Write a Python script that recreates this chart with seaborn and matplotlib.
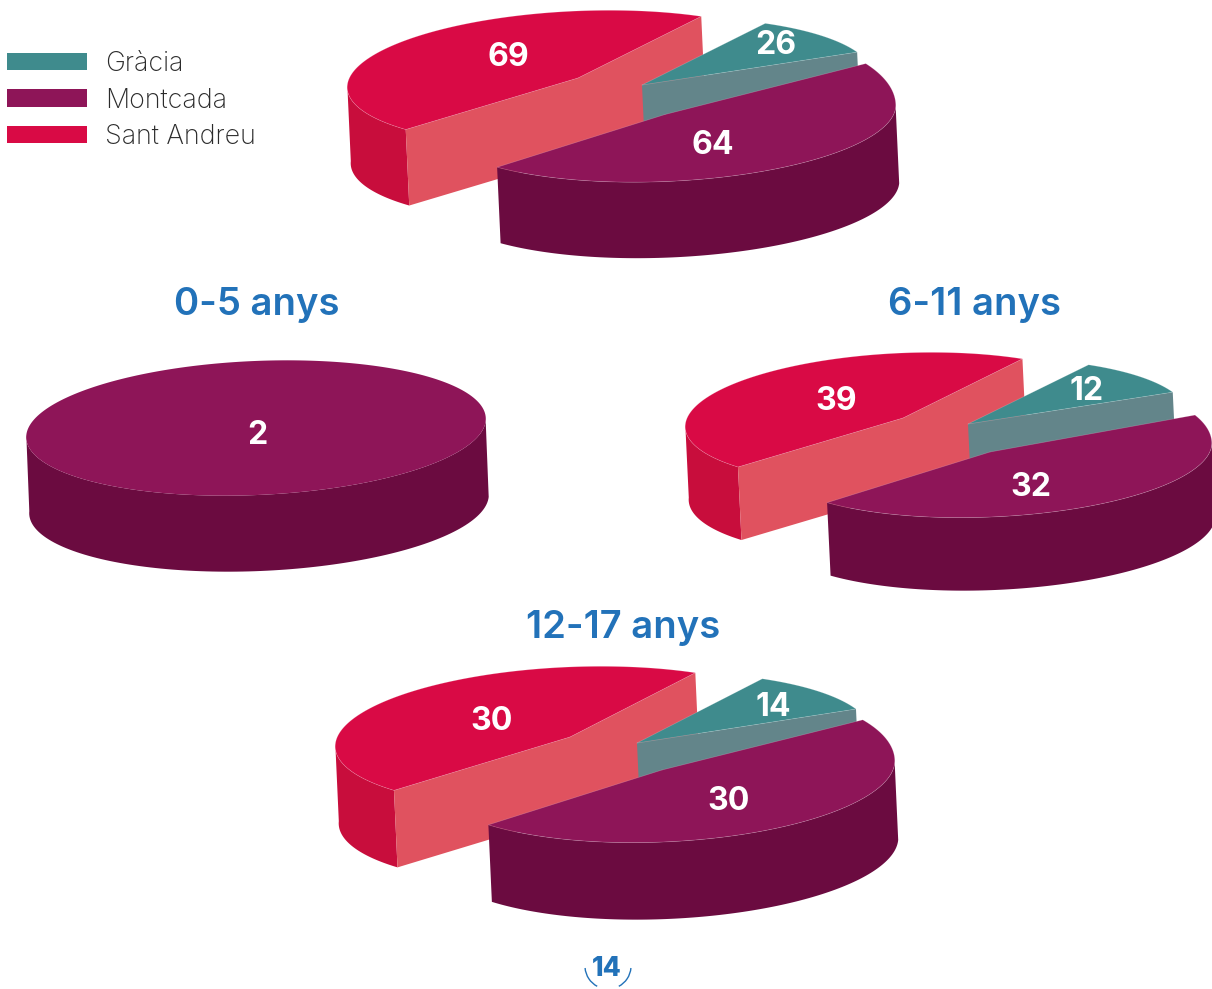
import numpy as np
import matplotlib
matplotlib.use("Agg")
import matplotlib.pyplot as plt
from matplotlib.patches import Patch, Arc
import seaborn as sns

sns.set_theme(style="white")
plt.rcParams['font.family'] = ['Inter', 'DejaVu Sans']

# Data
series = ['Gràcia', 'Montcada', 'Sant Andreu']
group_titles = ['', '0-5 anys', '6-11 anys', '12-17 anys']
gracia_values = [26, None, 12, 14]
montcada_values = [64, 2, 32, 30]
sant_andreu_values = [69, None, 39, 30]

# the slices are not drawn to scale in the original, so angles are read off too
# (degrees on the flattened ellipse, counter-clockwise from the right)
gracia_angles = [(20.5, 57), None, (20.6, 56), (20.4, 57)]
montcada_angles = [(222.6, 388.6), (0, 360), (222, 381.6), (221, 389.5)]
sant_andreu_angles = [(57, 221), None, (56, 220), (57, 220.7)]

# Layout in pixels: slice apex, radii, depth, label position
layout = [
    {'G': (642, 85), 'M': (665, 114.5), 'S': (578, 78), 'rx': 231, 'ry': 67, 'dx': 3.5, 'dy': 76,
     'M_rx': 231, 'M_ry': 67, 'M_back': 88,
     'lab': {'G': (776, 43), 'M': (713, 142), 'S': (508, 54)}},
    {'M': (256, 428), 'rx': 230, 'ry': 67, 'dx': 3, 'dy': 76,
     'M_rx': 230, 'M_ry': 67, 'M_back': 67,
     'lab': {'M': (257, 433)}},
    {'G': (968, 424), 'M': (990, 452), 'S': (903, 418), 'rx': 218, 'ry': 65, 'dx': 3.5, 'dy': 73,
     'G_rx': 220, 'M_rx': 222, 'M_ry': 65, 'M_back': 76,
     'lab': {'G': (1087, 388), 'M': (1031, 485), 'S': (836, 398)}},
    {'G': (637, 743), 'M': (662, 770), 'S': (570, 737), 'rx': 235, 'ry': 70, 'dx': 3.5, 'dy': 77,
     'M_rx': 233, 'M_ry': 72, 'M_back': 84,
     'lab': {'G': (773, 705), 'M': (729, 798), 'S': (492, 718)}},
]
title_pos = [None, (257, 302), (975, 302), (623, 625)]
TILT = np.radians(2.5)

top_colors = dict(zip('GMS', sns.color_palette(['#3F8B8D', '#8E1558', '#D90A45'])))
side_colors = {'G': '#3F8B8D', 'M': '#6B0B40', 'S': '#C80D3C'}
cut_colors = {'G': '#63858A', 'S': '#E0525F'}
BLUE = '#2272B9'


def rim(apex, rx, ry, ry_back, theta):
    # point on the tilted ellipse, pixel y pointing down
    theta = np.asarray(theta)
    s = np.sin(theta)
    u, v = rx * np.cos(theta), np.where(s > 0, ry_back, ry) * s
    x = apex[0] + u * np.cos(TILT) - v * np.sin(TILT)
    y = apex[1] - u * np.sin(TILT) - v * np.cos(TILT)
    return x, y


def draw_slice(ax, key, apex, angles, p):
    rx = p.get(key + '_rx', p['rx'])
    ry = p.get(key + '_ry', p['ry'])
    ry_back = p.get(key + '_back', ry)
    dx, dy = p['dx'], p['dy']
    t0, t1 = np.radians(angles[0]), np.radians(angles[1])
    whole = angles[1] - angles[0] >= 360

    # outer wall, only the part that faces the viewer
    lo, hi = max(t0, np.pi - TILT), min(t1, 2 * np.pi - TILT)
    if hi > lo:
        x, y = rim(apex, rx, ry, ry_back, np.linspace(lo, hi, 120))
        ax.fill(np.r_[x, x[::-1] + dx], np.r_[y, y[::-1] + dy],
                color=side_colors[key], lw=0, zorder=1)

    # cut faces: Sant Andreu shows both, Gràcia only the front one
    if key in cut_colors:
        x0, y0 = rim(apex, rx, ry, ry_back, t0)
        x1, y1 = rim(apex, rx, ry, ry_back, t1)
        if key == 'S':
            xs, ys = np.array([x1, apex[0], x0]), np.array([y1, apex[1], y0])
        else:
            xs, ys = np.array([apex[0], x0]), np.array([apex[1], y0])
        ax.fill(np.r_[xs, xs[::-1] + dx], np.r_[ys, ys[::-1] + dy],
                color=cut_colors[key], lw=0, zorder=1)

    # top face
    x, y = rim(apex, rx, ry, ry_back, np.linspace(t0, t1, 240))
    if not whole:
        x, y = np.r_[apex[0], x], np.r_[apex[1], y]
    ax.fill(x, y, color=top_colors[key], lw=0, zorder=1)
    # faint seam round the top face
    if not whole:
        ax.plot(np.r_[x, x[0]], np.r_[y, y[0]], color='white', alpha=0.22, lw=0.5, zorder=1)


fig = plt.figure(figsize=(12.12, 9.89), dpi=100)
ax = fig.add_axes([0, 0, 1, 1])
ax.set_xlim(0, 1212)
ax.set_ylim(989, 0)
ax.axis('off')

values = {'G': gracia_values, 'M': montcada_values, 'S': sant_andreu_values}
angles = {'G': gracia_angles, 'M': montcada_angles, 'S': sant_andreu_angles}

for i, p in enumerate(layout):
    # back slices first, Montcada sits in front
    for key in ['S', 'G', 'M']:
        if values[key][i] is None:
            continue
        apex = p[key]
        draw_slice(ax, key, apex, angles[key][i], p)
        lx, ly = p['lab'][key]
        ax.text(lx, ly + 3, str(values[key][i]), color='white', fontsize=23, fontweight='bold',
                ha='center', va='center', zorder=5)
    if title_pos[i]:
        ax.text(title_pos[i][0], title_pos[i][1] + 3, group_titles[i], color=BLUE, fontsize=27.5,
                fontweight='semibold', ha='center', va='center')

# legend
handles = [Patch(color=top_colors[k], lw=0) for k in 'GMS']
ax.legend(handles, series, loc='upper left', bbox_to_anchor=(7 / 1212, 1 - 51 / 989),
          bbox_transform=fig.transFigure, frameon=False, labelcolor='#2b2b2b',
          prop={'size': 19.3, 'weight': 'light'},
          handlelength=3.0, handleheight=0.6, handletextpad=0.65, labelspacing=0.39,
          borderpad=0, borderaxespad=0)

# page number
ax.text(607, 969, '14', color=BLUE, fontsize=19, fontweight='heavy', ha='center', va='center')
ax.add_patch(Arc((608, 966), 46, 46, theta1=5, theta2=62, color=BLUE, lw=1))
ax.add_patch(Arc((608, 966), 46, 46, theta1=118, theta2=175, color=BLUE, lw=1))

fig.savefig('out.png', dpi=100)
